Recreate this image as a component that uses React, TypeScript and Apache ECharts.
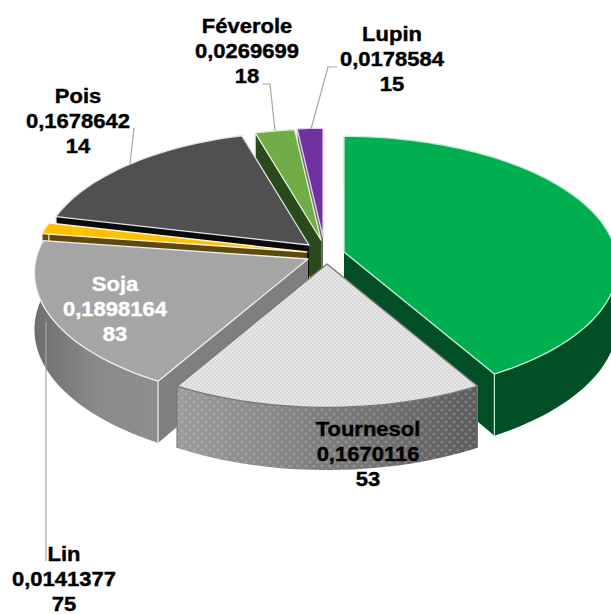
import React, { useEffect, useRef } from "react";
import * as echarts from "echarts";

// --- data ---
const CATEGORIES = ["Colza", "Tournesol", "Soja", "Lin", "Pois", "Féverole", "Lupin"];
const VALUES = [0.416341542, 0.167011653, 0.189816483, 0.014137775, 0.167864214, 0.026969918, 0.017858415];
const SHOW_LABEL = [false, true, true, true, true, true, true];

// --- style / layout ---
const TOP_COLORS = ["#00B050", "#E2E2E2", "#A5A5A5", "#FFC000", "#505050", "#70AD47", "#7030A0"];
const WALL_COLORS = ["#024F26", "#777777", "#7F7F7F", "#5E4A0E", "#0A0A0A", "#2A4A1C", "#6A6A6A"];
const EDGE_COLORS = ["#C8EED8", "#777777", "#F0F0F0", "#FFF2CC", "#E4E4E4", "#E6F2DC", "#E2D0F0"];
const APEX_X = [344, 327, 308, 307, 309, 321, 323];
const APEX_Y = [252, 264, 259, 252, 245, 240, 237];
const SCALE = [1, 1, 1, 1, 0.98, 0.96, 0.94];
const PAINT_RANK = [5, 6, 4, 3, 2, 1, 0];
const LABEL_X = [0, 368, 115, 64, 78, 247, 392];
const LABEL_Y = [0, 454, 309, 579, 121, 51, 59];
const LABEL_COLOR = ["#000", "#000", "#fff", "#000", "#000", "#000", "#000"];
const LEADERS = [
  [],
  [],
  [],
  [[46, 322], [46, 561]],
  [[134, 128], [130, 164]],
  [[262, 84], [270, 84], [275, 131]],
  [[337, 67], [328, 67], [311, 129]],
];

const R = 272;
const S = 128;
const K = 0.107;
const DEPTH = 56;

function fmt(v: number) {
  const s = v.toFixed(9).replace(".", ",");
  return s.slice(0, 9) + "\n" + s.slice(9);
}

function proj(i: number, deg: number, down: number) {
  const t = (deg * Math.PI) / 180;
  const x = Math.sin(t);
  const z = Math.cos(t);
  const w = 1 + K * z;
  return [
    APEX_X[i] + (SCALE[i] * R * x) / w,
    APEX_Y[i] - (SCALE[i] * S * z) / w + down / w,
  ];
}

function arc(i: number, a: number, b: number, down: number) {
  const n = Math.max(2, Math.ceil(Math.abs(b - a) / 2));
  const pts = [];
  for (let k = 0; k <= n; k++) pts.push(proj(i, a + ((b - a) * k) / n, down));
  return pts;
}

function dotPattern(size: number, base: string | null, dot: string, r: number) {
  const c = document.createElement("canvas");
  c.width = size;
  c.height = size;
  const g = c.getContext("2d")!;
  if (base) {
    g.fillStyle = base;
    g.fillRect(0, 0, size, size);
  }
  g.fillStyle = dot;
  const q = size / 4;
  for (const [x, y] of [[q, q], [3 * q, 3 * q]]) {
    g.beginPath();
    g.arc(x, y, r, 0, Math.PI * 2);
    g.fill();
  }
  return { image: c, repeat: "repeat", imageWidth: size, imageHeight: size };
}

export default function App() {
  const ref = useRef<HTMLDivElement>(null);
  useEffect(() => {
    document.body.style.margin = "0";
    document.body.style.background = "#fff";
    const chart = echarts.init(ref.current!, undefined, { renderer: "svg" });
    const total = VALUES.reduce((s, v) => s + v, 0);
    const topPat = dotPattern(4, "#E6E6E6", "#C8C8C8", 0.8);
    const wallPat = dotPattern(8, null, "rgba(215,215,215,0.26)", 1.6);

    const renderItem = (params: any, api: any) => {
      const i = params.dataIndex;
      const before = VALUES.slice(0, i).reduce((s, v) => s + v, 0);
      const a = (before / total) * 360;
      const b = a + (api.value(0) / total) * 360;
      const base = PAINT_RANK[i] * 10;
      const apex = [APEX_X[i], APEX_Y[i]];
      const apexLow = [APEX_X[i], APEX_Y[i] + DEPTH];
      const wall = WALL_COLORS[i];
      const children: any[] = [];
      const poly = (points: number[][], style: any, z: number) =>
        children.push({ type: "polygon", shape: { points }, style, z2: base + z, silent: true });

      poly([apex, proj(i, a, 0), proj(i, a, DEPTH), apexLow], { fill: wall }, 0);
      poly([apex, proj(i, b, 0), proj(i, b, DEPTH), apexLow], { fill: wall }, 0);

      const topArc = arc(i, a, b, 0);
      const lowArc = arc(i, a, b, DEPTH).reverse();
      let wallFill: any = wall;
      if (i === 1)
        wallFill = {
          type: "linear", x: 0, y: 0, x2: 1, y2: 0,
          colorStops: [{ offset: 0, color: "#9C9C9C" }, { offset: 1, color: "#5C5C5C" }],
        };
      if (i === 2)
        wallFill = {
          type: "linear", x: 0, y: 0, x2: 1, y2: 0,
          colorStops: [{ offset: 0, color: "#6E6E6E" }, { offset: 0.5, color: "#8A8A8A" }, { offset: 1, color: "#8E8E8E" }],
        };
      poly([...topArc, ...lowArc], { fill: wallFill }, 1);
      if (i === 1) {
        poly([...topArc, ...lowArc], { fill: wallPat }, 2);
      }
      for (const d of [a, b]) {
        const p = proj(i, d, 0);
        const q = proj(i, d, DEPTH);
        children.push({
          type: "line",
          shape: { x1: p[0], y1: p[1], x2: q[0], y2: q[1] },
          style: { stroke: EDGE_COLORS[i], lineWidth: 1.2 },
          z2: base + 3,
          silent: true,
        });
      }
      poly(
        [apex, ...topArc],
        {
          fill: i === 1 ? topPat : TOP_COLORS[i],
          stroke: EDGE_COLORS[i],
          lineWidth: 1.3,
          lineJoin: "round",
        },
        4,
      );
      return { type: "group", children };
    };

    const renderLabels = (params: any, api: any) => {
      const i = params.dataIndex;
      const children: any[] = [];
      const pts = LEADERS[i];
      if (pts.length) {
        children.push({
          type: "polyline",
          shape: { points: pts },
          style: { stroke: "#A6A6A6", lineWidth: 1.2, fill: "none" },
          z2: 200,
          silent: true,
        });
      }
      if (SHOW_LABEL[i]) {
        children.push({
          type: "text",
          x: LABEL_X[i],
          y: LABEL_Y[i],
          scaleX: 1.1,
          style: {
            text: CATEGORIES[i] + "\n" + fmt(api.value(0)),
            fill: LABEL_COLOR[i],
            stroke: LABEL_COLOR[i],
            lineWidth: 0.4,
            font: 'bold 20px "Liberation Sans", Arial, sans-serif',
            lineHeight: 25,
            align: "center",
            verticalAlign: "middle",
          },
          z2: 300,
          silent: true,
        });
      }
      return { type: "group", children };
    };

    const seriesData = VALUES.map((v, i) => ({ name: CATEGORIES[i], value: [v] }));
    chart.setOption({
      animation: false,
      backgroundColor: "#fff",
      tooltip: { show: false },
      series: [
        { type: "custom", coordinateSystem: "none", renderItem, data: seriesData, z: 2, silent: true },
        { type: "custom", coordinateSystem: "none", renderItem: renderLabels, data: seriesData, z: 3, silent: true },
      ],
    });
    return () => chart.dispose();
  }, []);
  return <div ref={ref} style={{ position: "fixed", left: 0, top: 0, width: 611, height: 614 }} />;
}
